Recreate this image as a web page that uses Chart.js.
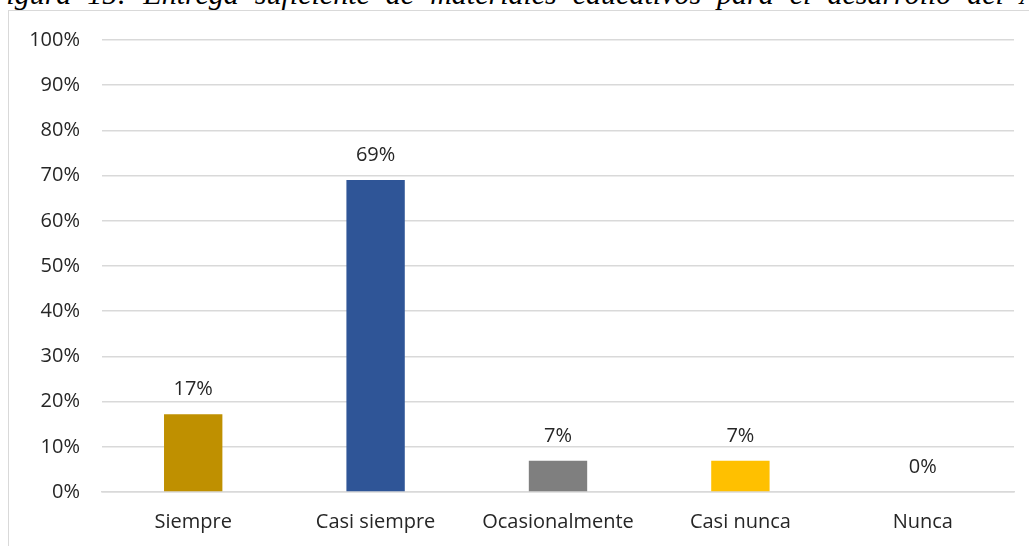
<!DOCTYPE html>
<html>
<head>
<meta charset="utf-8">
<script src="https://cdn.jsdelivr.net/npm/chart.js@4"></script>
<style>
html,body{margin:0;padding:0;background:#fff;overflow:hidden;}
#wrap{position:relative;width:1029px;height:546px;overflow:hidden;}
#title{position:absolute;left:-12px;top:-21px;line-height:30px;white-space:nowrap;font-family:"Liberation Serif",serif;font-style:italic;font-size:30px;word-spacing:8.5px;color:#000;}
#frame{position:absolute;left:8px;top:10px;width:1100px;height:600px;border:1px solid #d9d9d9;box-sizing:border-box;}
#c{position:absolute;left:0;top:0;}
</style>
</head>
<body>
<div id="wrap">
<div id="title">Figura 15: Entrega suficiente de materiales educativos para el desarrollo del Área</div>
<div id="frame"></div>
<canvas id="c" width="1029" height="546"></canvas>
</div>
<script>
const categories = ["Siempre", "Casi siempre", "Ocasionalmente", "Casi nunca", "Nunca"];
const values = [17.2, 69, 6.9, 6.9, 0];
const valueLabels = ["17%", "69%", "7%", "7%", "0%"];
const barColors = ["#BF9000", "#2F5597", "#7F7F7F", "#FFC000", "#A5A5A5"];
const yTicks = [0, 10, 20, 30, 40, 50, 60, 70, 80, 90, 100];

const FONT = '"Open Sans", sans-serif';

const valueLabelPlugin = {
  id: 'valueLabels',
  afterDatasetsDraw(chart) {
    const ctx = chart.ctx;
    const meta = chart.getDatasetMeta(0);
    ctx.save();
    ctx.font = '20px ' + FONT;
    ctx.fillStyle = '#262626';
    ctx.textAlign = 'center';
    ctx.textBaseline = 'middle';
    meta.data.forEach((bar, i) => {
      ctx.fillText(valueLabels[i], bar.x, bar.y - 25);
    });
    ctx.restore();
  }
};

new Chart(document.getElementById('c'), {
  type: 'bar',
  data: {
    labels: categories,
    datasets: [{
      data: values,
      backgroundColor: barColors,
      categoryPercentage: 1,
      barPercentage: 0.32
    }]
  },
  options: {
    responsive: false,
    animation: false,
    layout: { padding: { top: 40, right: 15, left: 0, bottom: 0 } },
    plugins: { legend: { display: false }, tooltip: { enabled: false } },
    scales: {
      x: {
        grid: { display: false, drawTicks: false },
        border: { display: true, color: '#d9d9d9', width: 1.5 },
        ticks: { padding: 18, color: '#262626', font: { family: FONT, size: 20 } },
        afterFit(scale) { scale.height = 54; }
      },
      y: {
        min: 0, max: 100,
        afterBuildTicks(scale) { scale.ticks = yTicks.map(v => ({ value: v })); },
        grid: { color: '#d9d9d9', lineWidth: 1.5, drawTicks: false },
        border: { display: false },
        ticks: {
          padding: 22, color: '#262626', font: { family: FONT, size: 20 },
          callback: v => v + '%'
        },
        afterFit(scale) { scale.width = 102; }
      }
    }
  },
  plugins: [valueLabelPlugin]
});
</script>
</body>
</html>
